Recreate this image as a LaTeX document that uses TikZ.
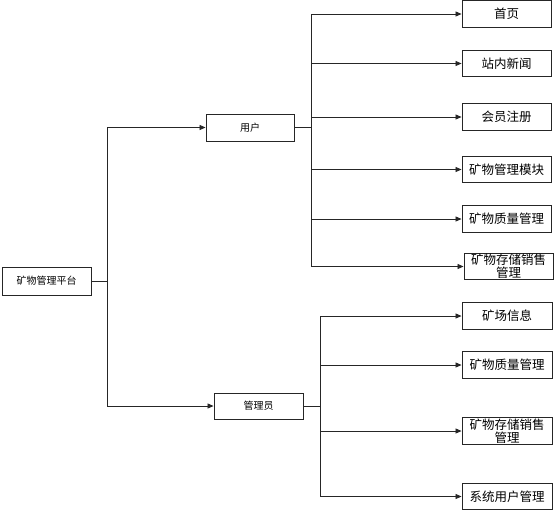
\documentclass[tikz,border=0pt]{standalone}
\usepackage{fontspec}
\setmainfont{Noto Sans CJK SC}
\usetikzlibrary{arrows.meta}
\begin{document}
\begin{tikzpicture}[x=1pt,y=-1pt,
  box/.style={draw=black!85,line width=0.9pt,fill=white,inner sep=0pt,minimum height=26.5pt,font=\fontsize{12.5}{13}\selectfont},
  smallbox/.style={box,font=\fontsize{10}{11}\selectfont},
  conn/.style={line width=0.8pt,draw=black!85},
  arr/.style={conn,-{Triangle[length=6pt,width=5pt]}}]
\useasboundingbox[fill=white] (0,0) rectangle (554,512);
% level 0 / 1
\node[smallbox,minimum width=89pt,minimum height=28pt] (root) at (46.5,281) {矿物管理平台};
\node[smallbox,minimum width=88pt,minimum height=27pt] (user) at (250,127.5) {用户};
\node[smallbox,minimum width=89pt,minimum height=26pt] (admin) at (258.5,406) {管理员};
% user children
\node[box,minimum width=89pt] (u1) at (506.5,14) {首页};
\node[box,minimum width=89pt] (u2) at (506.5,63.5) {站内新闻};
\node[box,minimum width=89pt] (u3) at (506.5,117) {会员注册};
\node[box,minimum width=89pt] (u4) at (506.5,169.5) {矿物管理模块};
\node[box,minimum width=89pt] (u5) at (506.5,219) {矿物质量管理};
\node[box,minimum width=89pt,align=center] (u6) at (508.5,266.5) {矿物存储销售\\管理};
% admin children
\node[box,minimum width=90pt] (a1) at (507,316) {矿场信息};
\node[box,minimum width=90pt] (a2) at (507,365) {矿物质量管理};
\node[box,minimum width=90pt,align=center] (a3) at (507,431) {矿物存储销售\\管理};
\node[box,minimum width=90pt] (a4) at (507,496.5) {系统用户管理};
% junctions
\coordinate (j0) at (107,281);
\coordinate (j1) at (311,127.5);
\coordinate (j2) at (320,406);
% connectors
\draw[conn] (root.east) -- (j0);
\draw[arr] (j0) |- (user.west);
\draw[arr] (j0) |- (admin.west);
\draw[conn] (user.east) -- (j1);
\foreach \n in {u1,u2,u3,u4,u5,u6} \draw[arr] (j1) |- (\n.west);
\draw[conn] (admin.east) -- (j2);
\foreach \n in {a1,a2,a3,a4} \draw[arr] (j2) |- (\n.west);
\end{tikzpicture}
\end{document}
